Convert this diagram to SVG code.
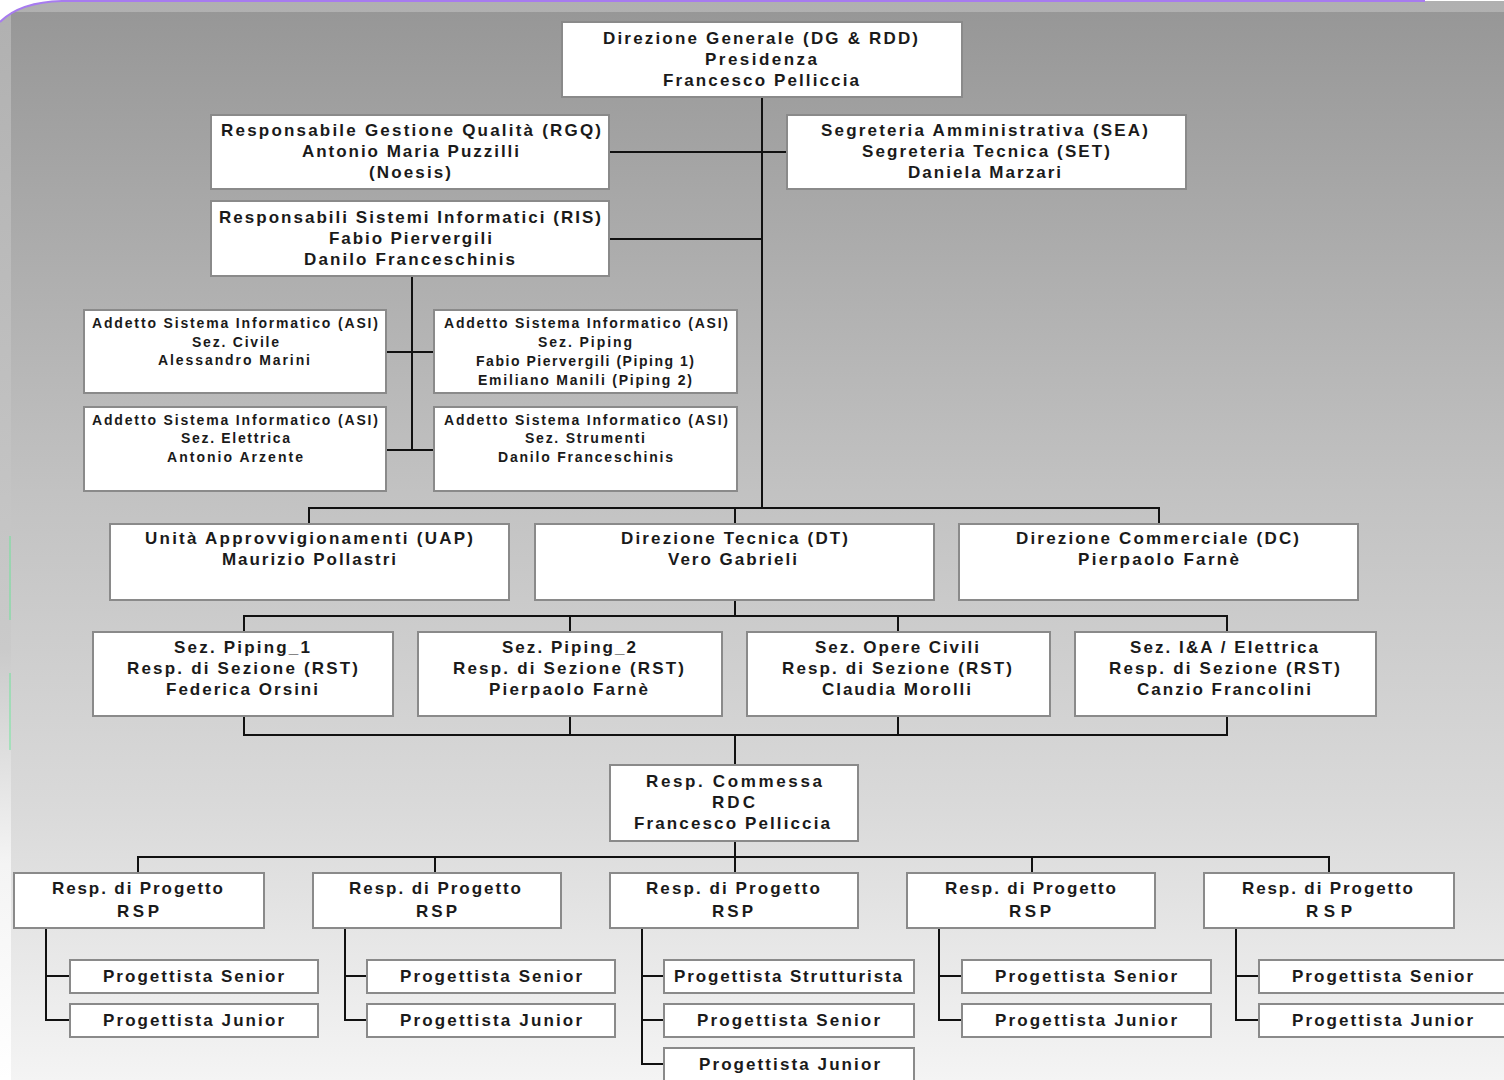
<svg xmlns="http://www.w3.org/2000/svg" width="1504" height="1080" viewBox="0 0 1504 1080">
<defs>
<linearGradient id="bg" x1="0" y1="0" x2="0" y2="1">
<stop offset="0" stop-color="#979797"/>
<stop offset="0.45" stop-color="#c2c2c2"/>
<stop offset="0.75" stop-color="#dadada"/>
<stop offset="1" stop-color="#f4f4f4"/>
</linearGradient>
<linearGradient id="strip" x1="0" y1="0" x2="0" y2="1">
<stop offset="0" stop-color="#b0b0b0"/>
<stop offset="0.6" stop-color="#cacaca"/>
<stop offset="0.8" stop-color="#f4f4f4"/>
<stop offset="1" stop-color="#ffffff"/>
</linearGradient>
<style>
.box{fill:#fff;stroke:#8a8a8a;stroke-width:2}
.t{font-family:"Liberation Sans",Arial,sans-serif;font-weight:bold;font-size:17px;fill:#1a1a1a;text-anchor:middle}
.s{font-size:14px}
.ln{stroke:#111;stroke-width:2;fill:none}
</style>
</defs>
<rect x="0" y="0" width="1504" height="1080" fill="#fff"/>
<path d="M0,22 Q20,2 62,1 L1504,1 L1504,1080 L0,1080 Z" fill="url(#strip)"/>
<path d="M11,12 L1504,12 L1504,1080 L11,1080 Z" fill="url(#bg)"/>
<path d="M0,22 Q20,2 62,1 L1425,1" fill="none" stroke="#a77bef" stroke-width="2"/>
<line x1="10" y1="536" x2="10" y2="620" stroke="#6ee29a" stroke-width="1"/>
<line x1="10" y1="673" x2="10" y2="750" stroke="#6ee29a" stroke-width="1"/>

<g id="connectors" class="ln">
<path d="M762,97 V508"/>
<path d="M609,152 H787"/>
<path d="M609,239 H762"/>
<path d="M412,276 V450 M386,352 H434 M386,450 H434"/>
<path d="M309,524 V508 H1159 V524 M735,508 V524"/>
<path d="M735,600 V616 M244,632 V616 H1227 V632 M570,616 V632 M898,616 V632"/>
<path d="M244,716 V735 H1227 V716 M570,716 V735 M898,716 V735 M735,735 V765"/>
<path d="M735,841 V857 M138,873 V857 H1329 V873 M435,857 V873 M735,857 V873 M1032,857 V873"/>
<path d="M46,928 V1020 H70 M46,976 H70"/>
<path d="M345,928 V1020 H367 M345,976 H367"/>
<path d="M642,928 V1064 H664 M642,976 H664 M642,1020 H664"/>
<path d="M939,928 V1020 H962 M939,976 H962"/>
<path d="M1236,928 V1020 H1259 M1236,976 H1259"/>
</g>

<g id="dg"><rect class="box" x="562" y="22" width="400" height="75"/>
<text class="t" x="760.5" y="44" textLength="315">Direzione Generale (DG &amp; RDD)</text>
<text class="t" x="761" y="65" textLength="112">Presidenza</text>
<text class="t" x="761" y="86" textLength="196">Francesco Pelliccia</text></g>

<g id="rgq"><rect class="box" x="211" y="115" width="398" height="74"/>
<text class="t" x="411" y="136" textLength="380">Responsabile Gestione Qualità (RGQ)</text>
<text class="t" x="410.5" y="157" textLength="217">Antonio Maria Puzzilli</text>
<text class="t" x="410" y="178" textLength="82">(Noesis)</text></g>

<g id="sea"><rect class="box" x="787" y="115" width="399" height="74"/>
<text class="t" x="984.5" y="136" textLength="327">Segreteria Amministrativa (SEA)</text>
<text class="t" x="986" y="157" textLength="248">Segreteria Tecnica (SET)</text>
<text class="t" x="984.5" y="178" textLength="153">Daniela Marzari</text></g>

<g id="ris"><rect class="box" x="211" y="201" width="398" height="75"/>
<text class="t" x="410" y="223" textLength="382">Responsabili Sistemi Informatici (RIS)</text>
<text class="t" x="410.5" y="244" textLength="163">Fabio Piervergili</text>
<text class="t" x="409.5" y="265" textLength="211">Danilo Franceschinis</text></g>

<g id="asi-civile"><rect class="box" x="84" y="310" width="302" height="83"/>
<text class="t s" x="235" y="328" textLength="286">Addetto Sistema Informatico (ASI)</text>
<text class="t s" x="235.5" y="347" textLength="87">Sez. Civile</text>
<text class="t s" x="234" y="365" textLength="152">Alessandro Marini</text></g>

<g id="asi-piping"><rect class="box" x="434" y="310" width="303" height="83"/>
<text class="t s" x="586" y="328" textLength="284">Addetto Sistema Informatico (ASI)</text>
<text class="t s" x="585" y="347" textLength="94">Sez. Piping</text>
<text class="t s" x="585" y="366" textLength="218">Fabio Piervergili (Piping 1)</text>
<text class="t s" x="585" y="385" textLength="214">Emiliano Manili  (Piping 2)</text></g>

<g id="asi-elettrica"><rect class="box" x="84" y="407" width="302" height="84"/>
<text class="t s" x="235" y="425" textLength="286">Addetto Sistema Informatico (ASI)</text>
<text class="t s" x="235.5" y="443" textLength="109">Sez. Elettrica</text>
<text class="t s" x="235" y="462" textLength="136">Antonio Arzente</text></g>

<g id="asi-strumenti"><rect class="box" x="434" y="407" width="303" height="84"/>
<text class="t s" x="586" y="425" textLength="284">Addetto Sistema Informatico (ASI)</text>
<text class="t s" x="585" y="443" textLength="120">Sez. Strumenti</text>
<text class="t s" x="585.5" y="462" textLength="175">Danilo Franceschinis</text></g>

<g id="uap"><rect class="box" x="110" y="524" width="399" height="76"/>
<text class="t" x="309" y="544" textLength="328">Unità Approvvigionamenti (UAP)</text>
<text class="t" x="309" y="565" textLength="174">Maurizio Pollastri</text></g>

<g id="dt"><rect class="box" x="535" y="524" width="399" height="76"/>
<text class="t" x="734.5" y="544" textLength="227">Direzione Tecnica (DT)</text>
<text class="t" x="732.5" y="565" textLength="129">Vero Gabrieli</text></g>

<g id="dc"><rect class="box" x="959" y="524" width="399" height="76"/>
<text class="t" x="1157.5" y="544" textLength="283">Direzione Commerciale (DC)</text>
<text class="t" x="1158.5" y="565" textLength="161">Pierpaolo Farnè</text></g>

<g id="sez-piping1"><rect class="box" x="93" y="632" width="300" height="84"/>
<text class="t" x="242" y="653" textLength="136">Sez. Piping_1</text>
<text class="t" x="242.5" y="674" textLength="231">Resp. di Sezione (RST)</text>
<text class="t" x="242" y="695" textLength="152">Federica Orsini</text></g>

<g id="sez-piping2"><rect class="box" x="418" y="632" width="304" height="84"/>
<text class="t" x="569" y="653" textLength="134">Sez. Piping_2</text>
<text class="t" x="568.5" y="674" textLength="231">Resp. di Sezione (RST)</text>
<text class="t" x="568.5" y="695" textLength="159">Pierpaolo Farnè</text></g>

<g id="sez-civili"><rect class="box" x="747" y="632" width="303" height="84"/>
<text class="t" x="897" y="653" textLength="164">Sez. Opere Civili</text>
<text class="t" x="897" y="674" textLength="230">Resp. di Sezione (RST)</text>
<text class="t" x="896.5" y="695" textLength="149">Claudia Morolli</text></g>

<g id="sez-ia"><rect class="box" x="1075" y="632" width="301" height="84"/>
<text class="t" x="1224" y="653" textLength="188">Sez. I&amp;A / Elettrica</text>
<text class="t" x="1224.5" y="674" textLength="231">Resp. di Sezione (RST)</text>
<text class="t" x="1224" y="695" textLength="174">Canzio Francolini</text></g>

<g id="rdc"><rect class="box" x="610" y="765" width="248" height="76"/>
<text class="t" x="734" y="787" textLength="176">Resp. Commessa</text>
<text class="t" x="733.5" y="808" textLength="43">RDC</text>
<text class="t" x="732" y="829" textLength="196">Francesco Pelliccia</text></g>

<g id="rsp-1"><rect class="box" x="14" y="873" width="250" height="55"/>
<text class="t" x="137.5" y="894" textLength="171">Resp. di Progetto</text>
<text class="t" x="138" y="917" textLength="42">RSP</text></g>
<g id="rsp-2"><rect class="box" x="313" y="873" width="248" height="55"/>
<text class="t" x="435" y="894" textLength="172">Resp. di Progetto</text>
<text class="t" x="436.5" y="917" textLength="41">RSP</text></g>
<g id="rsp-3"><rect class="box" x="610" y="873" width="248" height="55"/>
<text class="t" x="733" y="894" textLength="174">Resp. di Progetto</text>
<text class="t" x="732.5" y="917" textLength="41">RSP</text></g>
<g id="rsp-4"><rect class="box" x="907" y="873" width="248" height="55"/>
<text class="t" x="1030.5" y="894" textLength="171">Resp. di Progetto</text>
<text class="t" x="1030" y="917" textLength="42">RSP</text></g>
<g id="rsp-5"><rect class="box" x="1204" y="873" width="250" height="55"/>
<text class="t" x="1327.5" y="894" textLength="171">Resp. di Progetto</text>
<text class="t" x="1329" y="917" textLength="46">RSP</text></g>

<g id="p1-senior"><rect class="box" x="70" y="960" width="248" height="33"/><text class="t" x="193.5" y="982" textLength="181">Progettista Senior</text></g>
<g id="p1-junior"><rect class="box" x="70" y="1004" width="248" height="33"/><text class="t" x="193.5" y="1026" textLength="181">Progettista Junior</text></g>
<g id="p2-senior"><rect class="box" x="367" y="960" width="248" height="33"/><text class="t" x="491" y="982" textLength="182">Progettista Senior</text></g>
<g id="p2-junior"><rect class="box" x="367" y="1004" width="248" height="33"/><text class="t" x="491" y="1026" textLength="182">Progettista Junior</text></g>
<g id="p3-strutturista"><rect class="box" x="664" y="960" width="250" height="33"/><text class="t" x="788" y="982" textLength="228">Progettista Strutturista</text></g>
<g id="p3-senior"><rect class="box" x="664" y="1004" width="250" height="33"/><text class="t" x="788.5" y="1026" textLength="183">Progettista Senior</text></g>
<g id="p3-junior"><rect class="box" x="664" y="1048" width="250" height="33"/><text class="t" x="789.5" y="1070" textLength="181">Progettista Junior</text></g>
<g id="p4-senior"><rect class="box" x="962" y="960" width="249" height="33"/><text class="t" x="1086" y="982" textLength="182">Progettista Senior</text></g>
<g id="p4-junior"><rect class="box" x="962" y="1004" width="249" height="33"/><text class="t" x="1086" y="1026" textLength="182">Progettista Junior</text></g>
<g id="p5-senior"><rect class="box" x="1259" y="960" width="250" height="33"/><text class="t" x="1382.5" y="982" textLength="181">Progettista Senior</text></g>
<g id="p5-junior"><rect class="box" x="1259" y="1004" width="250" height="33"/><text class="t" x="1382.5" y="1026" textLength="181">Progettista Junior</text></g>
</svg>
